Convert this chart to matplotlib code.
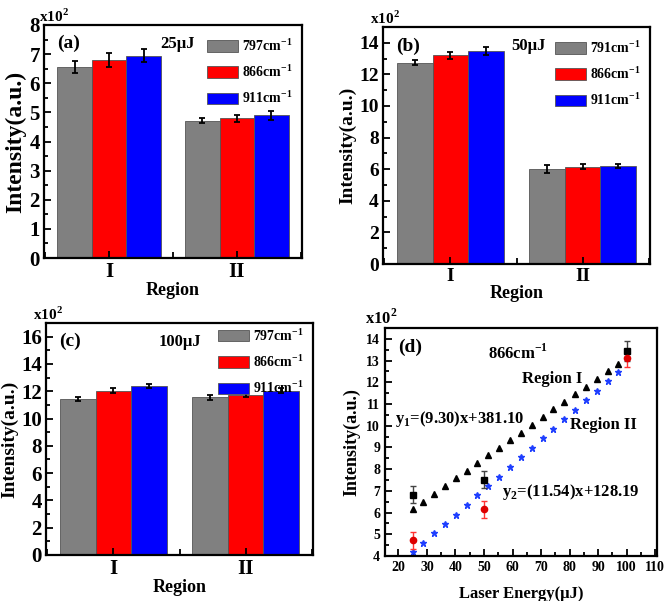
import matplotlib
matplotlib.use("Agg")
import matplotlib.pyplot as plt
from matplotlib.ticker import MultipleLocator
import numpy as np

plt.rcParams['font.family'] = ['Liberation Serif', 'DejaVu Serif']
plt.rcParams['font.weight'] = 'bold'
plt.rcParams['axes.labelweight'] = 'bold'
plt.rcParams['axes.linewidth'] = 1.6

# ---- data (x10^2 a.u.) ----
regions = ["I", "II"]
colors = ["#808080", "#ff0000", "#0000ff"]

labels_a = ["797cm$^{\\mathregular{-1}}$", "866cm$^{\\mathregular{-1}}$", "911cm$^{\\mathregular{-1}}$"]
vals_a = [[6.55, 4.72], [6.80, 4.80], [6.95, 4.90]]
errs_a = [[0.20, 0.10], [0.25, 0.12], [0.22, 0.15]]

labels_b = ["791cm$^{\\mathregular{-1}}$", "866cm$^{\\mathregular{-1}}$", "911cm$^{\\mathregular{-1}}$"]
vals_b = [[12.75, 6.02], [13.20, 6.15], [13.50, 6.20]]
errs_b = [[0.15, 0.25], [0.20, 0.15], [0.25, 0.10]]

labels_c = ["797cm$^{\\mathregular{-1}}$", "866cm$^{\\mathregular{-1}}$", "911cm$^{\\mathregular{-1}}$"]
vals_c = [[11.45, 11.55], [12.05, 11.70], [12.40, 12.05]]
errs_c = [[0.15, 0.20], [0.20, 0.15], [0.15, 0.20]]

# panel (d)
fit_x = [25.0, 28.7, 32.5, 36.3, 40.1, 43.9, 47.7, 51.5, 55.3, 59.1,
         62.9, 66.7, 70.5, 74.3, 78.1, 81.9, 85.7, 89.5, 93.3, 97.1]
fit_y1 = [6.15, 6.50, 6.85, 7.22, 7.57, 7.92, 8.28, 8.63, 8.98, 9.33,
          9.68, 10.04, 10.39, 10.75, 11.10, 11.45, 11.80, 12.16, 12.51, 12.86]
fit_y2 = [4.17, 4.60, 5.04, 5.47, 5.91, 6.35, 6.79, 7.22, 7.66, 8.10,
          8.54, 8.98, 9.42, 9.86, 10.29, 10.73, 11.17, 11.61, 12.05, 12.48]
meas_x = [25, 50, 100]
meas_y1 = [6.82, 7.52, 13.45]
meas_e1 = [0.40, 0.40, 0.45]
meas_y2 = [4.72, 6.15, 13.10]
meas_e2 = [0.40, 0.38, 0.40]

W, H = 666, 601
fig = plt.figure(figsize=(W / 100, H / 100), dpi=100)


def box(l, t, r, b):
    return [l / W, 1 - b / H, (r - l) / W, (b - t) / H]


def bar_panel(ax, vals, errs, labels, ylim, major, minor, tag, energy, ex,
              tsize, lsize, xpos, legy):
    x = np.arange(1, len(regions) + 1)
    w = 0.27
    for i in range(3):
        ax.bar(x + (i - 1) * w, vals[i], w, color=colors[i], edgecolor="#555555",
               linewidth=0.6, label=labels[i])
        ax.errorbar(x + (i - 1) * w, vals[i], yerr=errs[i], fmt="none",
                    ecolor="black", elinewidth=1.3, capsize=2.5, capthick=1.3)
    ax.set_xlim(0.49, 2.51)
    ax.set_ylim(*ylim)
    ax.set_xticks(x)
    ax.set_xticklabels(regions)
    ax.xaxis.set_minor_locator(MultipleLocator(0.5))
    ax.yaxis.set_major_locator(MultipleLocator(major))
    ax.yaxis.set_minor_locator(MultipleLocator(minor))
    ax.tick_params(which="both", direction="in", labelsize=tsize, width=1.3, pad=3)
    ax.tick_params(which="major", length=5)
    ax.tick_params(which="minor", length=3)
    ax.tick_params(axis="x", which="minor", length=4)
    ax.set_ylabel("Intensity(a.u.)", fontsize=lsize, labelpad=2)
    ax.set_xlabel("Region", fontsize=13, labelpad=0)
    ax.text(0.05, 0.92, tag, transform=ax.transAxes, fontsize=14, fontweight="bold", va="center")
    ax.text(ex, 0.92, energy, transform=ax.transAxes, fontsize=12, fontweight="bold", va="center")
    ax.text(xpos, 1.0, "x10$^{\\mathregular{2}}$", transform=ax.transAxes, fontsize=11,
            fontweight="bold", va="bottom", ha="left")
    ax.legend(loc="upper right", frameon=False, fontsize=10, handlelength=2.2,
              handleheight=0.9, labelspacing=0.7, handletextpad=0.3,
              borderaxespad=0.3, bbox_to_anchor=(1.0, legy))


ax_a = fig.add_axes(box(44, 25, 302, 258))
bar_panel(ax_a, vals_a, errs_a, labels_a, (0, 8), 1, 0.5, "(a)", "25\u00b5J", 0.45, 15, 17,
          -0.02, 0.99)

ax_b = fig.add_axes(box(383, 27, 650, 264))
bar_panel(ax_b, vals_b, errs_b, labels_b, (0, 15), 2, 1, "(b)", "50\u00b5J", 0.48, 14, 14,
          -0.05, 0.99)

ax_c = fig.add_axes(box(46, 323, 313, 555))
bar_panel(ax_c, vals_c, errs_c, labels_c, (0, 17), 2, 1, "(c)", "100\u00b5J", 0.42, 15, 14,
          -0.05, 1.025)

# ---- panel (d) ----
ax_d = fig.add_axes(box(385, 328, 657, 556))
ax_d.plot(fit_x, fit_y1, "^", color="black", markersize=4.5, linestyle="none")
ax_d.plot(fit_x, fit_y2, "*", color="#1f3fff", markersize=5, linestyle="none")
ax_d.errorbar(meas_x, meas_y1, yerr=meas_e1, fmt="s", color="black", markersize=4,
              ecolor="#444444", elinewidth=1.0, capsize=2.5)
ax_d.errorbar(meas_x, meas_y2, yerr=meas_e2, fmt="o", color="#dd0000", markersize=4.5,
              ecolor="#ff3333", elinewidth=1.0, capsize=2.5)
ax_d.set_xlim(15.3, 110.6)
ax_d.set_ylim(4, 14.5)
ax_d.xaxis.set_major_locator(MultipleLocator(10))
ax_d.xaxis.set_minor_locator(MultipleLocator(5))
ax_d.yaxis.set_major_locator(MultipleLocator(1))
ax_d.yaxis.set_minor_locator(MultipleLocator(0.5))
ax_d.tick_params(which="both", direction="in", labelsize=10, width=1.3)
ax_d.tick_params(which="major", length=5)
ax_d.tick_params(which="minor", length=3)
ax_d.set_ylabel("Intensity(a.u.)", fontsize=13, labelpad=4)
ax_d.set_xlabel("Laser Energy(\u00b5J)", fontsize=12, labelpad=9)
ax_d.text(0.05, 0.915, "(d)", transform=ax_d.transAxes, fontsize=14, fontweight="bold", va="center")
ax_d.text(0.38, 0.89, "866cm$^{\\mathregular{-1}}$", transform=ax_d.transAxes, fontsize=12,
          fontweight="bold", va="center")
ax_d.text(0.505, 0.775, "Region I", transform=ax_d.transAxes, fontsize=12,
          fontweight="bold", va="center")
ax_d.text(0.035, 0.6, "y$_{\\mathregular{1}}$=(9.30)x+381.10", transform=ax_d.transAxes,
          fontsize=12, fontweight="bold", va="center")
ax_d.text(0.68, 0.575, "Region II", transform=ax_d.transAxes, fontsize=12,
          fontweight="bold", va="center")
ax_d.text(0.43, 0.28, "y$_{\\mathregular{2}}$=(11.54)x+128.19", transform=ax_d.transAxes,
          fontsize=12, fontweight="bold", va="center")
ax_d.text(-0.075, 1.0, "x10$^{\\mathregular{2}}$", transform=ax_d.transAxes, fontsize=12,
          fontweight="bold", va="bottom", ha="left")

fig.savefig("out.png", dpi=100)
